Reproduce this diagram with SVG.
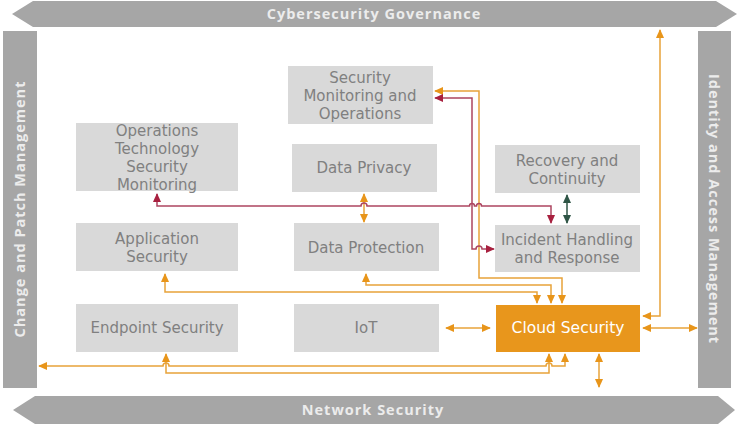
<svg xmlns="http://www.w3.org/2000/svg" width="740" height="428" viewBox="0 0 740 428">
<defs>
<style>
.band{fill:#a6a6a6}
.bt{font-family:"Open Sans","Noto Sans",sans-serif;font-weight:bold;font-size:14.5px;fill:#ececec;text-anchor:middle;letter-spacing:1px}
.box{fill:#d9d9d9}
.nt{font-family:"DejaVu Sans","Noto Sans",sans-serif;font-size:15px;fill:#808080;text-anchor:middle}
.cloud{fill:#e8961c}
.ct{font-family:"DejaVu Sans","Noto Sans",sans-serif;font-size:15.5px;fill:#ffffff;text-anchor:middle}
.o{fill:none;stroke:#e8a33a;stroke-width:1.5;marker-start:url(#ao);marker-end:url(#ao)}
.r{fill:none;stroke:#ad4560;stroke-width:1.5;marker-start:url(#ar);marker-end:url(#ar)}
.g{fill:none;stroke:#2f5546;stroke-width:1.5;marker-start:url(#ag);marker-end:url(#ag)}
</style>
<marker id="ao" viewBox="0 0 10 10" refX="9" refY="5" markerWidth="9" markerHeight="9" markerUnits="userSpaceOnUse" orient="auto-start-reverse"><path d="M0,0.5 L10,5 L0,9.5 z" fill="#e8951a"/></marker>
<marker id="ar" viewBox="0 0 10 10" refX="9" refY="5" markerWidth="9" markerHeight="9" markerUnits="userSpaceOnUse" orient="auto-start-reverse"><path d="M0,0.5 L10,5 L0,9.5 z" fill="#a8203f"/></marker>
<marker id="ag" viewBox="0 0 10 10" refX="9" refY="5" markerWidth="9" markerHeight="9" markerUnits="userSpaceOnUse" orient="auto-start-reverse"><path d="M0,0.5 L10,5 L0,9.5 z" fill="#2f5546"/></marker>
</defs>
<rect width="740" height="428" fill="#ffffff"/>

<g id="governance">
<polygon class="band" points="12,14 33,1 716,1 737,14 716,27 33,27"/>
<text class="bt" x="374" y="19">Cybersecurity Governance</text>
</g>
<g id="network-security">
<polygon class="band" points="13,410 35,396 718,396 735,410 718,424 35,424"/>
<text class="bt" x="373" y="415">Network Security</text>
</g>
<g id="change-patch">
<rect class="band" x="3" y="31" width="34" height="357"/>
<text class="bt" transform="translate(25,209) rotate(-90)">Change and Patch Management</text>
</g>
<g id="identity-access">
<rect class="band" x="698" y="31" width="33" height="357"/>
<text class="bt" transform="translate(709,209) rotate(90)">Identity and Access Management</text>
</g>

<g id="security-monitoring">
<rect class="box" x="288" y="66" width="145" height="58"/>
<text class="nt" x="360" y="83">Security</text>
<text class="nt" x="360" y="101">Monitoring and</text>
<text class="nt" x="360" y="119">Operations</text>
</g>
<g id="ot-monitoring">
<rect class="box" x="76" y="123" width="162" height="68"/>
<text class="nt" x="157" y="136">Operations</text>
<text class="nt" x="157" y="154">Technology</text>
<text class="nt" x="157" y="172">Security</text>
<text class="nt" x="157" y="189.5">Monitoring</text>
</g>
<g id="data-privacy">
<rect class="box" x="292" y="144" width="145" height="48"/>
<text class="nt" x="364" y="173">Data Privacy</text>
</g>
<g id="recovery">
<rect class="box" x="495" y="145" width="145" height="48"/>
<text class="nt" x="567" y="166">Recovery and</text>
<text class="nt" x="567" y="184">Continuity</text>
</g>
<g id="application-security">
<rect class="box" x="76" y="223" width="162" height="48"/>
<text class="nt" x="157" y="244">Application</text>
<text class="nt" x="157" y="262">Security</text>
</g>
<g id="data-protection">
<rect class="box" x="294" y="223" width="145" height="48"/>
<text class="nt" x="366" y="253">Data Protection</text>
</g>
<g id="incident-handling">
<rect class="box" x="495" y="225" width="145" height="47"/>
<text class="nt" x="567" y="245">Incident Handling</text>
<text class="nt" x="567" y="263">and Response</text>
</g>
<g id="endpoint-security">
<rect class="box" x="76" y="304" width="162" height="48"/>
<text class="nt" x="157" y="333">Endpoint Security</text>
</g>
<g id="iot">
<rect class="box" x="294" y="304" width="145" height="48"/>
<text class="nt" x="366" y="333">IoT</text>
</g>
<g id="cloud-security">
<rect class="cloud" x="496" y="305" width="144" height="47"/>
<text class="ct" x="568" y="333">Cloud Security</text>
</g>

<g id="connectors">
<path class="o" d="M435,91 H479 V278 H562 V303"/>
<path class="o" d="M366,274 V285 H551 V303"/>
<path class="o" d="M165,274 V292 H537 V303"/>
<path class="o" d="M39,366 H163 a3,3 0 0 1 6,0 H546 a3,3 0 0 1 6,0 H565 V354"/>
<path class="o" d="M166,354 V373 H549 V354"/>
<path class="o" d="M599,354 V387"/>
<path class="o" d="M446,328 H490"/>
<path class="o" d="M643,328 H697"/>
<path class="o" d="M643,316 H660 V30"/>
<path class="o" d="M364,194 V222"/>
<path class="g" d="M567,195 V223"/>
<path class="r" d="M157,194 V206 H361 a3,3 0 0 1 6,0 H469.5 a2.5,2.5 0 0 1 5,0 H476.5 a2.5,2.5 0 0 1 5,0 H551 V223"/>
<path class="r" d="M435,98 H472 V249 H476 a3,3 0 0 1 6,0 H494"/>
</g>
</svg>
